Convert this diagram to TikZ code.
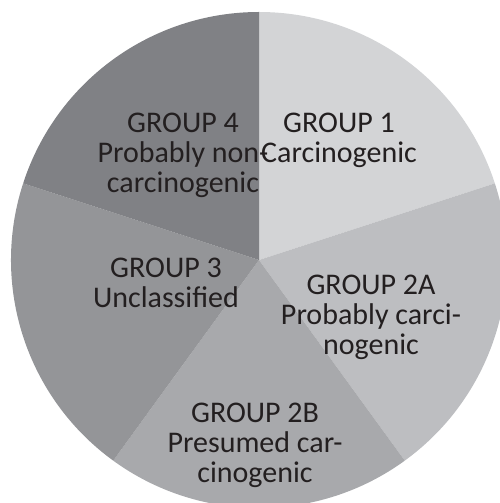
\documentclass[tikz,border=0pt]{standalone}
\usepackage{fontspec}
\setmainfont{Carlito}
\begin{document}
\begin{tikzpicture}[x=1pt,y=1pt,
  lbl/.style={align=center,anchor=base,inner sep=0pt,text=txt,
    font={\fontsize{30}{30}\selectfont}}]
\definecolor{gA}{HTML}{D3D4D6}
\definecolor{gB}{HTML}{BDBEC1}
\definecolor{gC}{HTML}{A8A9AC}
\definecolor{gD}{HTML}{949598}
\definecolor{gE}{HTML}{808185}
\definecolor{txt}{HTML}{231F20}
\useasboundingbox (0,0) rectangle (500,503);
\clip (0,0) rectangle (500,503);
\coordinate (c) at (259,243);
\fill[gA] (c) -- ++(90:248) arc[start angle=90,end angle=18,radius=248] -- cycle;
\fill[gB] (c) -- ++(18:248) arc[start angle=18,end angle=-54,radius=248] -- cycle;
\fill[gC] (c) -- ++(-54:248) arc[start angle=-54,end angle=-126,radius=248] -- cycle;
\fill[gD] (c) -- ++(-126:248) arc[start angle=-126,end angle=-198,radius=248] -- cycle;
\fill[gE] (c) -- ++(162:248) arc[start angle=162,end angle=90,radius=248] -- cycle;
\node[lbl] (t4) at (183,310) {GROUP 4\\Probably non-\\carcinogenic};
\node[lbl] (t1) at (339,340) {GROUP 1\\Carcinogenic};
\node[lbl] (t3) at (166,195) {GROUP 3\\Unclassified};
\node[lbl] (t2a) at (371,148) {GROUP 2A\\Probably carci-\\nogenic};
\node[lbl] (t2b) at (255,20) {GROUP 2B\\Presumed car-\\cinogenic};
\end{tikzpicture}
\end{document}
